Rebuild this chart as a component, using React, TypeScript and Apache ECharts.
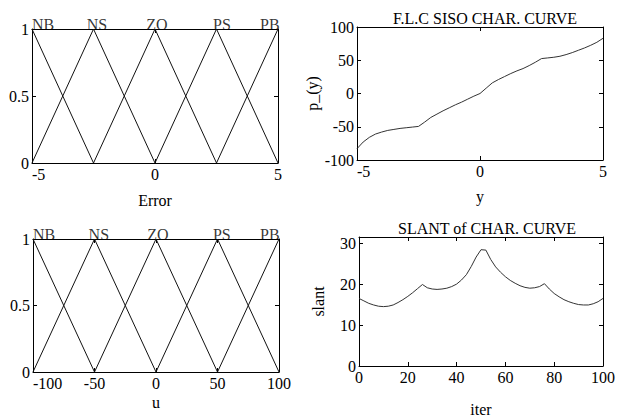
import React, { useEffect, useRef } from "react";
import * as echarts from "echarts";

// Membership functions (triangles) for "Error" and "u"
const mfNames = ["NB", "NS", "ZO", "PS", "PB"];
const errX = [[-5, -2.5], [-5, -2.5, 0], [-2.5, 0, 2.5], [0, 2.5, 5], [2.5, 5]];
const uX = [[-100, -50], [-100, -50, 0], [-50, 0, 50], [0, 50, 100], [50, 100]];
const mfY = [[1, 0], [0, 1, 0], [0, 1, 0], [0, 1, 0], [0, 1]];
const errLabelX = [-4.55, -2.36, 0.08, 2.72, 4.67];
const uLabelX = [-91, -46.5, 1.5, 53.5, 92.5];

// F.L.C SISO characteristic curve
const yVals = [
  -5, -4.75, -4.5, -4.25, -4, -3.75, -3.5, -3.25, -3, -2.75, -2.5, -2.25, -2, -1.75, -1.5, -1.25, -1, -0.75, -0.5, -0.25,
  0, 0.25, 0.5, 0.75, 1, 1.25, 1.5, 1.75, 2, 2.25, 2.5, 2.75, 3, 3.25, 3.5, 3.75, 4, 4.25, 4.5, 4.75, 5,
];
const pVals = [
  -83, -73, -66, -61, -58, -55.5, -54, -52.5, -51.5, -50.5, -49.5, -43, -36, -31, -26, -21.5, -17, -13, -8.5, -4,
  0, 8, 16, 21, 25.5, 30, 34, 37.5, 42, 47, 52.5, 53.5, 54.5, 56, 58.5, 61.5, 65, 68.5, 72.5, 77, 83,
];

// Slant of characteristic curve
const iterVals = [
  0, 2, 4, 6, 8, 10, 12, 14, 16, 18, 20, 22, 24, 26, 28, 30, 32, 34, 36, 38, 40, 42, 44, 46, 48, 50,
  52, 54, 56, 58, 60, 62, 64, 66, 68, 70, 72, 74, 76, 78, 80, 82, 84, 86, 88, 90, 92, 94, 96, 98, 100,
];
const slantVals = [
  16.5, 15.9, 15.3, 14.9, 14.6, 14.5, 14.6, 14.9, 15.5, 16.2, 17.0, 17.9, 18.9, 19.9, 19.1, 18.8, 18.7, 18.8, 19.0, 19.4,
  20.0, 21.0, 22.3, 24.3, 26.6, 28.4, 28.3, 26.0, 24.2, 22.9, 21.8, 20.9, 20.2, 19.6, 19.2, 19.0, 19.1, 19.4, 20.1, 18.8,
  17.7, 16.9, 16.2, 15.7, 15.3, 15.0, 14.9, 14.9, 15.2, 15.7, 16.5,
];

const FONT = "Liberation Serif";
const BLACK = "#000";
const TICK_FS = 16;

const gridsPx = [
  { left: 32, top: 29, width: 246, height: 134 },
  { left: 357, top: 27, width: 246, height: 133 },
  { left: 33, top: 239, width: 246, height: 133 },
  { left: 359, top: 237, width: 246, height: 133 },
];

const axLine = { show: true, onZero: false, lineStyle: { color: BLACK, width: 1 } };
const axTick = { show: true, inside: true, length: 4, lineStyle: { color: BLACK } };

function xPair(gi: number, min: number, max: number, interval: number, name: string, nameGap: number, alignMin: string) {
  return [
    {
      type: "value", gridIndex: gi, min, max, interval, position: "bottom",
      axisLine: axLine, axisTick: axTick, splitLine: { show: false },
      axisLabel: { color: BLACK, fontFamily: FONT, fontSize: TICK_FS, margin: 3, alignMinLabel: alignMin },
      name, nameLocation: "middle", nameGap,
      nameTextStyle: { color: BLACK, fontFamily: FONT, fontSize: 16 },
    },
    {
      type: "value", gridIndex: gi, min, max, interval, position: "top",
      axisLine: axLine, axisTick: axTick, splitLine: { show: false }, axisLabel: { show: false },
    },
  ];
}

function yPair(gi: number, min: number, max: number, interval: number, name: string, nameGap: number) {
  return [
    {
      type: "value", gridIndex: gi, min, max, interval, position: "left",
      axisLine: axLine, axisTick: axTick, splitLine: { show: false },
      axisLabel: {
        color: BLACK, fontFamily: FONT, fontSize: TICK_FS, margin: 3,
        formatter: (v: number) => (Math.abs(v / interval - Math.round(v / interval)) < 1e-6 ? String(v) : ""),
      },
      name, nameLocation: "middle", nameGap, nameRotate: 90,
      nameTextStyle: { color: BLACK, fontFamily: FONT, fontSize: 16 },
    },
    {
      type: "value", gridIndex: gi, min, max, interval, position: "right",
      axisLine: axLine, axisTick: axTick, splitLine: { show: false }, axisLabel: { show: false },
    },
  ];
}

function mfSeries(xs: number[][], labelX: number[], axisIdx: number) {
  const s: any[] = xs.map((xArr, i) => ({
    type: "line",
    xAxisIndex: axisIdx,
    yAxisIndex: axisIdx,
    data: xArr.map((x, j) => [x, mfY[i][j]]),
    symbol: "none",
    lineStyle: { color: "#111", width: 1 },
    silent: true,
  }));
  s.push({
    type: "scatter",
    xAxisIndex: axisIdx,
    yAxisIndex: axisIdx,
    symbolSize: 0,
    data: labelX.map((x, i) => ({ value: [x, 1], name: mfNames[i] })),
    label: {
      show: true,
      position: "top",
      distance: -3,
      formatter: (p: any) => p.name,
      color: BLACK,
      fontFamily: FONT,
      fontSize: 16,
    },
    silent: true,
  });
  return s;
}

export default function App() {
  const ref = useRef<HTMLDivElement>(null);
  useEffect(() => {
    if (!ref.current) return;
    const chart = echarts.init(ref.current, null, { renderer: "svg" });
    const option: any = {
      animation: false,
      backgroundColor: "#fff",
      title: [
        {
          text: "F.L.C SISO CHAR. CURVE", left: 480, top: 5, textAlign: "center",
          textStyle: { color: BLACK, fontFamily: FONT, fontSize: 16, fontWeight: "normal" },
        },
        {
          text: "SLANT of CHAR. CURVE", left: 482, top: 215, textAlign: "center",
          textStyle: { color: BLACK, fontFamily: FONT, fontSize: 16, fontWeight: "normal" },
        },
      ],
      grid: gridsPx.map((g) => ({ ...g, containLabel: false })),
      xAxis: [
        ...xPair(0, -5, 5, 5, "Error", 29, "left"),
        ...xPair(1, -5, 5, 5, "y", 28, "left"),
        ...xPair(2, -100, 100, 50, "u", 22, "left"),
        ...xPair(3, 0, 100, 20, "iter", 35, "center"),
      ],
      yAxis: [
        ...yPair(0, 0, 1, 0.5, "", 30),
        ...yPair(1, -100, 100, 50, "p_(y)", 33),
        ...yPair(2, 0, 1, 0.5, "", 30),
        ...yPair(3, 0, 31.5, 10, "slant", 33),
      ],
      series: [
        ...mfSeries(errX, errLabelX, 0),
        {
          type: "line", xAxisIndex: 2, yAxisIndex: 2,
          data: yVals.map((x, i) => [x, pVals[i]]),
          symbol: "none", lineStyle: { color: "#333", width: 1 }, silent: true,
        },
        ...mfSeries(uX, uLabelX, 4),
        {
          type: "line", xAxisIndex: 6, yAxisIndex: 6,
          data: iterVals.map((x, i) => [x, slantVals[i]]),
          symbol: "none", lineStyle: { color: "#333", width: 1 }, silent: true,
        },
      ],
    };
    chart.setOption(option);
    return () => chart.dispose();
  }, []);
  return (
    <div
      ref={ref}
      style={{ position: "absolute", left: 0, top: 0, width: 618, height: 418, background: "#fff" }}
    />
  );
}
